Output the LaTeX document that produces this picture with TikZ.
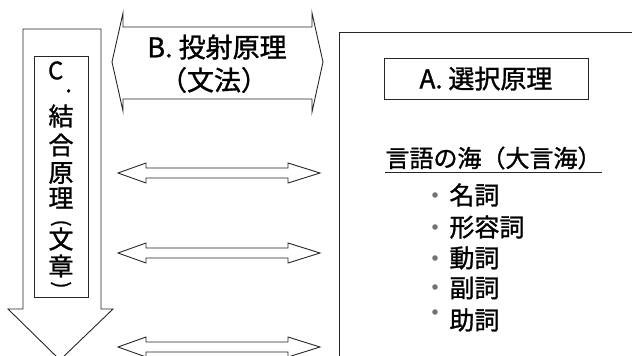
\documentclass[tikz,border=0pt]{standalone}
\usepackage{fontspec}
\usepackage{graphicx}
\setmainfont{Noto Sans CJK JP}[FakeBold=1.2,UprightFeatures={FakeBold=1.2}]
\begin{document}
\begin{tikzpicture}[x=1pt,y=-1pt,line width=0.9pt,
  outl/.style={draw=black!85,line join=miter},
  jp/.style={inner sep=0pt,text=black,font=\fontsize{#1}{#1}\selectfont},
  jp/.default=26,
  dot/.style={fill=black!55}]
\useasboundingbox (0,0) rectangle (632,356);
% C: downward block arrow
\draw[outl] (23,29) -- (101,29) -- (101,309) -- (113,309) -- (60,360) -- (8,309) -- (23,309) -- cycle;
\draw[outl] (34,56) rectangle (88,297);
\node[jp=24] (c0) at (60,77) {C\hspace{2pt}\raisebox{-13pt}{.}};
\node[jp=25] (c1) at (61,116) {結};
\node[jp=25] (c2) at (61,145) {合};
\node[jp=25] (c3) at (61,173) {原};
\node[jp=25] (c4) at (61,198) {理};
\node[jp=20] (c5) at (61,223) {\rotatebox{-90}{(}};
\node[jp=25] (c6) at (61,239) {文};
\node[jp=25] (c7) at (61,266) {章};
\node[jp=20] (c8) at (61,285) {\rotatebox{-90}{)}};
% B: horizontal double block arrow
\draw[outl] (112,62) -- (123,13) -- (123,27) -- (312,27) -- (312,13) -- (323,62)
  -- (312,112) -- (312,99) -- (123,99) -- (123,111) -- cycle;
\node[jp=27] (B1) at (217,47) {B. 投射原理};
\node[jp=27] (B2) at (214,80) {（文法）};
% middle double arrows
\foreach \yy in {173,253,347}{
  \draw[outl] (118,\yy) -- (146,\yy-10) -- (146,\yy-5) -- (288,\yy-5) -- (288,\yy-10)
    -- (320,\yy) -- (288,\yy+10) -- (288,\yy+5) -- (146,\yy+5) -- (146,\yy+10) -- cycle;
}
% right panel
\draw[outl] (339,400) -- (339,32) -- (700,32);
\node[draw=black!85,minimum width=204,minimum height=41,jp=26] (A) at (486,78.5) {A. 選択原理};
\node[jp=24] (sea) at (493.5,158) {言語の海（大言海）};
\draw[black!85,line width=1pt] (385,172) -- (602,172);
% bullet list
\foreach \yy/\txt/\by in {195/名詞/195,227/形容詞/227,258/動詞/258,288/副詞/287,320/助詞/312}{
  \fill[dot] (435,\by) circle (2.8);
  \node[jp=25,anchor=west] at (449,\yy) {\txt};
}
\end{tikzpicture}
\end{document}
